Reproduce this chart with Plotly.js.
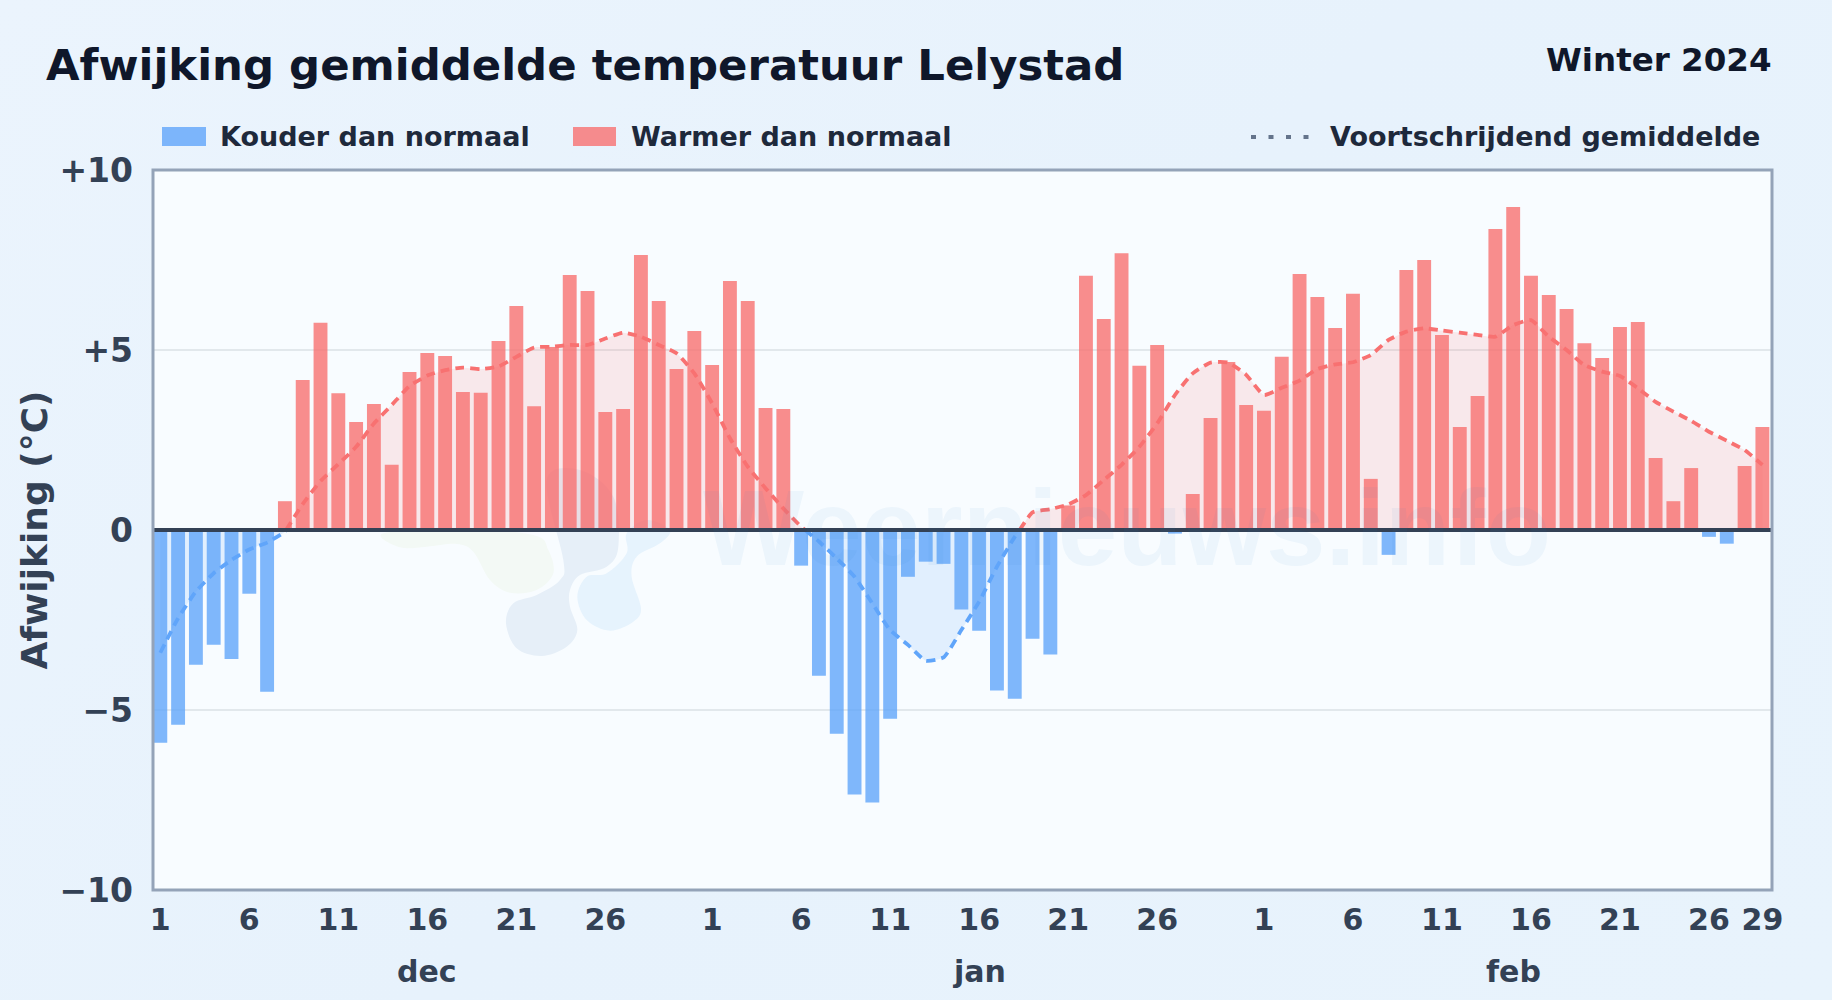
<!DOCTYPE html>
<html>
<head>
<meta charset="utf-8">
<script src="https://cdn.plot.ly/plotly-3.0.1.min.js"></script>
<style>
html,body{margin:0;padding:0;width:1832px;height:1000px;overflow:hidden;background:linear-gradient(135deg,#ebf4fd 0%,#e7f2fc 50%,#e8f3fc 100%);}
#chart{width:1832px;height:1000px;}
</style>
</head>
<body>
<div id="chart"></div>
<script>
// Afwijking per dag, 1 dec - 29 feb
const deviation = [
-5.91,-5.41,-3.74,-3.19,-3.58,-1.77,-4.49,0.80,4.17,5.76,3.80,3.00,3.50,1.81,4.39,4.92,4.83,3.83,3.81,5.25,6.22,3.44,5.08,7.08,6.64,3.28,3.36,7.64,6.36,4.47,5.53,
4.58,6.92,6.36,3.39,3.36,-0.99,-4.05,-5.66,-7.35,-7.57,-5.24,-1.30,-0.88,-0.94,-2.21,-2.80,-4.46,-4.69,-3.02,-3.46,0.68,7.06,5.86,7.69,4.56,5.14,-0.10,1.00,3.11,4.67,3.47,
3.31,4.81,7.11,6.47,5.61,6.56,1.42,-0.69,7.22,7.50,5.42,2.86,3.72,8.36,8.97,7.06,6.53,6.14,5.19,4.78,5.64,5.78,2.00,0.80,1.72,-0.19,-0.38,1.78,2.86];
// Voortschrijdend gemiddelde
const movingAverage = [
-3.41,-2.45,-1.71,-1.20,-0.83,-0.54,-0.35,-0.05,0.72,1.36,1.83,2.31,2.96,3.47,4.00,4.29,4.44,4.51,4.47,4.54,4.81,5.07,5.09,5.14,5.14,5.32,5.48,5.37,5.14,4.91,4.35,
3.52,2.55,1.76,1.16,0.60,0.09,-0.32,-0.79,-1.30,-2.04,-2.78,-3.19,-3.63,-3.54,-2.78,-1.99,-1.02,-0.19,0.49,0.58,0.71,0.97,1.39,1.81,2.31,2.96,3.75,4.35,4.65,4.65,4.31,
3.75,3.95,4.15,4.47,4.60,4.66,4.86,5.28,5.51,5.60,5.54,5.48,5.42,5.37,5.69,5.83,5.37,5.00,4.58,4.40,4.28,3.94,3.56,3.29,3.03,2.73,2.48,2.22,1.81];
const tickDays = [0,5,10,15,20,25,31,36,41,46,51,56,62,67,72,77,82,87,90];
const tickTexts = ['1','6','11','16','21','26','1','6','11','16','21','26','1','6','11','16','21','26','29'];
const monthNames = ['dec','jan','feb'];
const monthCenters = [15,46,76];
const yTickVals = [-10,-5,0,5,10];
const yTickTexts = ['−10','−5','0','+5','+10'];

const dayIndex = deviation.map((_, i) => i);
const colder = deviation.map(v => v < 0 ? v : null);
const warmer = deviation.map(v => v >= 0 ? v : null);

// split the average at its zero crossings
function signPart(sign){
  const xs = [], ys = [];
  for(let i = 0; i < movingAverage.length; i++){
    const v = movingAverage[i];
    if(v * sign >= 0){ xs.push(i); ys.push(v); }
    const n = movingAverage[i + 1];
    if(n !== undefined && v * n < 0){
      const c = i + v / (v - n);
      xs.push(c); ys.push(0);
      if(v * sign >= 0){ xs.push(c); ys.push(null); }
    }
  }
  return {xs, ys};
}
const posPart = signPart(1), negPart = signPart(-1);

const FONT = '"DejaVu Sans", sans-serif';
const DARK = '#0f172a', INK = '#1e293b', AXIS = '#334155';
const L = 153, R = 1772, T = 170, B = 890;
const px = x => (x - L) / (R - L);
const py = y => (B - y) / (B - T);

function blob(points, fill){
  const p = points.map(q => [px(360 + q[0] / 3), py(440 + q[1] / 3)]);
  const n = p.length;
  let d = 'M' + p[0][0] + ',' + p[0][1];
  for(let i = 0; i < n; i++){
    const a = p[(i - 1 + n) % n], b = p[i], c = p[(i + 1) % n], e = p[(i + 2) % n];
    d += 'C' + (b[0] + (c[0] - a[0]) / 6) + ',' + (b[1] + (c[1] - a[1]) / 6) + ' ' +
         (c[0] - (e[0] - b[0]) / 6) + ',' + (c[1] - (e[1] - b[1]) / 6) + ' ' + c[0] + ',' + c[1];
  }
  return {type:'path', xref:'paper', yref:'paper', path:d + 'Z', fillcolor:fill, line:{width:0}, layer:'below'};
}
const blobs = [
  blob([[70,280],[120,322],[200,320],[290,312],[340,335],[390,420],[450,458],[530,450],[580,400],[565,330],[520,285],[300,265]], '#f3f9f5'),
  blob([[560,120],[610,360],[600,420],[530,465],[460,490],[438,550],[470,625],[545,648],[620,620],[652,570],[630,500],[630,450],[660,405],[740,380],[775,320],[760,170],[660,90]], '#e6eff8'),
  blob([[800,280],[800,340],[740,400],[680,410],[652,470],[680,540],[750,572],[820,545],[843,505],[815,410],[830,350],[900,310],[930,270],[860,240]], '#e6f3fd')
];

const traces = [
  {type:'bar', name:'Kouder dan normaal', x:dayIndex, y:colder, width:0.78, marker:{color:'#60a5fa', opacity:0.8, line:{width:0}}},
  {type:'bar', name:'Warmer dan normaal', x:dayIndex, y:warmer, width:0.78, marker:{color:'#f87171', opacity:0.8, line:{width:0}}},
  {type:'scatter', mode:'lines', name:'Voortschrijdend gemiddelde', x:posPart.xs, y:posPart.ys, fill:'tozeroy', fillcolor:'rgba(248,113,113,0.14)',
   line:{color:'#f87171', width:3.8, dash:'9px,6px', shape:'spline', smoothing:0.5}},
  {type:'scatter', mode:'lines', name:'Voortschrijdend gemiddelde (koud)', x:negPart.xs, y:negPart.ys, fill:'tozeroy', fillcolor:'rgba(96,165,250,0.15)',
   line:{color:'#60a5fa', width:3.8, dash:'9px,6px', shape:'spline', smoothing:0.5}}
];

const legendFont = {family:FONT, size:27, weight:700, color:INK};
const tickFont = {family:FONT, size:30, weight:700, color:AXIS};
const yTickFont = {family:FONT, size:33, weight:700, color:AXIS};
const annotations = [
  {xref:'paper', yref:'paper', x:px(1773.5), y:py(60), xanchor:'right', yanchor:'middle', showarrow:false, text:'Winter 2024', font:{family:FONT, size:32.5, weight:700, color:DARK}},
  {xref:'paper', yref:'paper', x:px(217.5), y:py(137), xanchor:'left', yanchor:'middle', showarrow:false, text:'Kouder dan normaal', font:legendFont},
  {xref:'paper', yref:'paper', x:px(628.5), y:py(137), xanchor:'left', yanchor:'middle', showarrow:false, text:'Warmer dan normaal', font:legendFont},
  {xref:'paper', yref:'paper', x:px(1328), y:py(137), xanchor:'left', yanchor:'middle', showarrow:false, text:'Voortschrijdend gemiddelde', font:legendFont},
  {xref:'paper', yref:'paper', x:px(1127), y:py(528), xanchor:'center', yanchor:'middle', showarrow:false, text:'Weernieuws.info',
   font:{family:'"Liberation Sans", sans-serif', size:107, weight:700, color:'rgba(30,120,200,0.055)'}}
].concat(monthNames.map((m, i) => ({xref:'x', yref:'paper', x:monthCenters[i], y:py(971), xanchor:'center', yanchor:'middle', showarrow:false, text:m, font:tickFont})));

const shapes = blobs.concat([
  {type:'rect', xref:'paper', yref:'paper', x0:px(162), x1:px(206), y0:py(127), y1:py(146), fillcolor:'rgba(96,165,250,0.8)', line:{width:0}},
  {type:'rect', xref:'paper', yref:'paper', x0:px(573), x1:px(616), y0:py(127), y1:py(146), fillcolor:'rgba(248,113,113,0.8)', line:{width:0}},
  {type:'line', xref:'paper', yref:'paper', x0:px(1251), x1:px(1310), y0:py(137), y1:py(137), line:{color:'#64748b', width:4, dash:'5px,12.5px'}},
  {type:'line', xref:'paper', yref:'y', x0:0, x1:1, y0:0, y1:0, line:{color:AXIS, width:4}, layer:'above'},
  {type:'rect', xref:'paper', yref:'paper', x0:0, x1:1, y0:0, y1:1, fillcolor:'rgba(0,0,0,0)', line:{color:'#94a3b8', width:3}, layer:'above'}
]);

const layout = {
  width:1832, height:1000,
  margin:{l:L, r:1832 - R, t:T, b:1000 - B, pad:0},
  paper_bgcolor:'rgba(0,0,0,0)', plot_bgcolor:'#f8fcff',
  showlegend:false, barmode:'overlay',
  title:{text:'Afwijking gemiddelde temperatuur Lelystad', xref:'container', yref:'container', x:46/1832, xanchor:'left', y:1 - 65/1000, yanchor:'middle', pad:{l:0,r:0,t:0,b:0},
         font:{family:FONT, size:43.4, weight:700, color:DARK}},
  xaxis:{range:[-0.41, 90.54], tickvals:tickDays, ticktext:tickTexts, tickangle:0, showgrid:false, zeroline:false, ticks:'', ticklabelstandoff:9,
         tickfont:tickFont, showline:false},
  yaxis:{range:[-10,10], tickvals:yTickVals, ticktext:yTickTexts, showgrid:true, gridcolor:'#e2e8ec', gridwidth:2, zeroline:false, ticks:'', ticklabelstandoff:19,
         tickfont:yTickFont, showline:false,
         title:{text:'Afwijking (°C)', standoff:0, font:{family:FONT, size:36, weight:700, color:AXIS}}},
  shapes, annotations
};
Plotly.newPlot('chart', traces, layout, {displayModeBar:false, staticPlot:true});
</script>
</body>
</html>
